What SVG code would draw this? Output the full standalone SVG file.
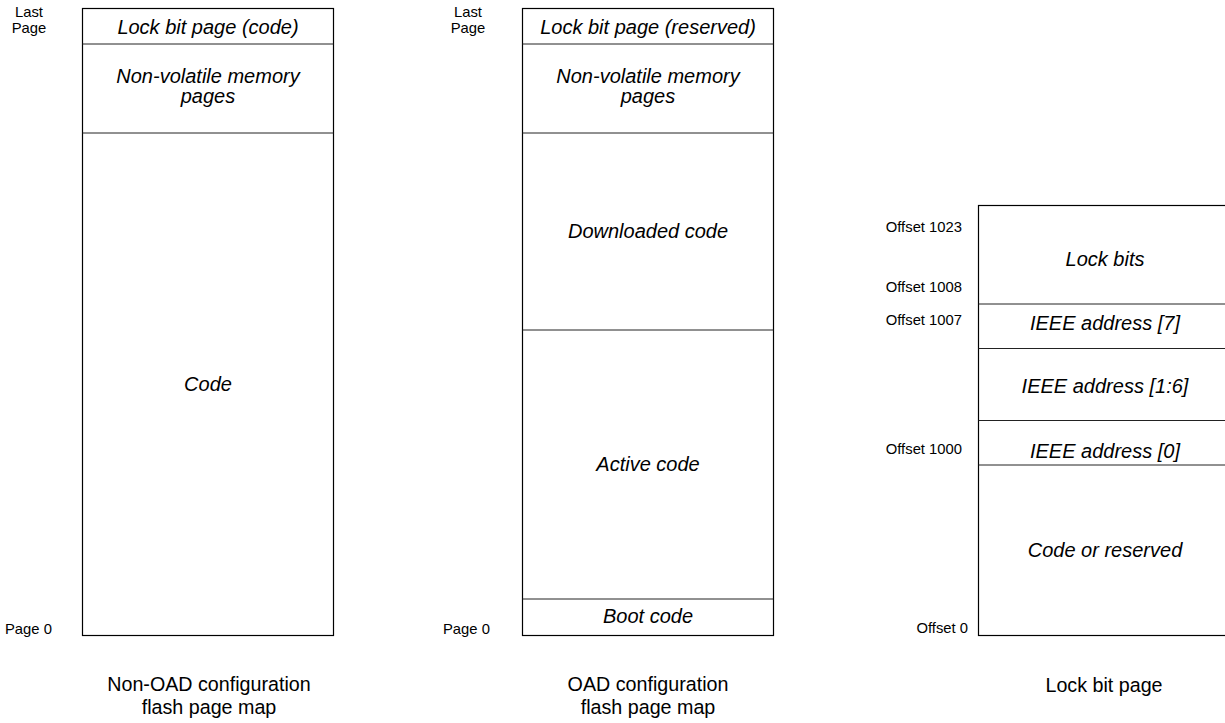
<svg xmlns="http://www.w3.org/2000/svg" width="1225" height="723" viewBox="0 0 1225 723">
  <style>
    .box { fill: #fff; stroke: #000; stroke-width: 1.2; }
    .div { stroke: #222; stroke-width: 1; }
    .seg { font-family: "Liberation Sans", Arial, sans-serif; font-size: 20px; font-style: italic; fill: #000; text-anchor: middle; }
    .side { font-family: "Liberation Sans", Arial, sans-serif; font-size: 14.8px; fill: #000; }
    .cap { font-family: "Liberation Sans", Arial, sans-serif; font-size: 19.7px; fill: #000; text-anchor: middle; }
  </style>
  <rect width="1225" height="723" fill="#fff"/>

  <!-- Non-OAD configuration flash page map -->
  <g id="non-oad-map">
    <rect class="box" x="82.5" y="8.5" width="251" height="627"/>
    <line class="div" x1="82.5" y1="44" x2="333.5" y2="44"/>
    <line class="div" x1="82.5" y1="133" x2="333.5" y2="133"/>
    <text class="seg" x="208" y="34">Lock bit page (code)</text>
    <text class="seg" x="208" y="83">Non-volatile memory</text>
    <text class="seg" x="208" y="103">pages</text>
    <text class="seg" x="208" y="391">Code</text>
    <text class="side" x="29" y="17" text-anchor="middle">Last</text>
    <text class="side" x="29" y="33" text-anchor="middle">Page</text>
    <text class="side" x="5" y="634">Page 0</text>
    <text class="cap" x="209" y="691">Non-OAD configuration</text>
    <text class="cap" x="209" y="714">flash page map</text>
  </g>

  <!-- OAD configuration flash page map -->
  <g id="oad-map">
    <rect class="box" x="522.5" y="8.5" width="251" height="627"/>
    <line class="div" x1="522.5" y1="44" x2="773.5" y2="44"/>
    <line class="div" x1="522.5" y1="133" x2="773.5" y2="133"/>
    <line class="div" x1="522.5" y1="330" x2="773.5" y2="330"/>
    <line class="div" x1="522.5" y1="599" x2="773.5" y2="599"/>
    <text class="seg" x="648" y="34">Lock bit page (reserved)</text>
    <text class="seg" x="648" y="83">Non-volatile memory</text>
    <text class="seg" x="648" y="103">pages</text>
    <text class="seg" x="648" y="238">Downloaded code</text>
    <text class="seg" x="648" y="471">Active code</text>
    <text class="seg" x="648" y="623">Boot code</text>
    <text class="side" x="468" y="17" text-anchor="middle">Last</text>
    <text class="side" x="468" y="33" text-anchor="middle">Page</text>
    <text class="side" x="443" y="634">Page 0</text>
    <text class="cap" x="648" y="691">OAD configuration</text>
    <text class="cap" x="648" y="714">flash page map</text>
  </g>

  <!-- Lock bit page layout -->
  <g id="lock-bit-page">
    <rect class="box" x="978.5" y="205.5" width="254" height="430"/>
    <line class="div" x1="978.5" y1="304" x2="1232" y2="304"/>
    <line class="div" x1="978.5" y1="348.5" x2="1232" y2="348.5"/>
    <line class="div" x1="978.5" y1="420.5" x2="1232" y2="420.5"/>
    <line class="div" x1="978.5" y1="465" x2="1232" y2="465"/>
    <text class="seg" x="1105" y="266">Lock bits</text>
    <text class="seg" x="1105" y="330">IEEE address [7]</text>
    <text class="seg" x="1105" y="393">IEEE address [1:6]</text>
    <text class="seg" x="1105" y="458">IEEE address [0]</text>
    <text class="seg" x="1105" y="557">Code or reserved</text>
    <text class="side" x="962" y="232" text-anchor="end">Offset 1023</text>
    <text class="side" x="962" y="292" text-anchor="end">Offset 1008</text>
    <text class="side" x="962" y="325" text-anchor="end">Offset 1007</text>
    <text class="side" x="962" y="454" text-anchor="end">Offset 1000</text>
    <text class="side" x="968" y="633" text-anchor="end">Offset 0</text>
    <text class="cap" x="1104" y="692">Lock bit page</text>
  </g>
</svg>
